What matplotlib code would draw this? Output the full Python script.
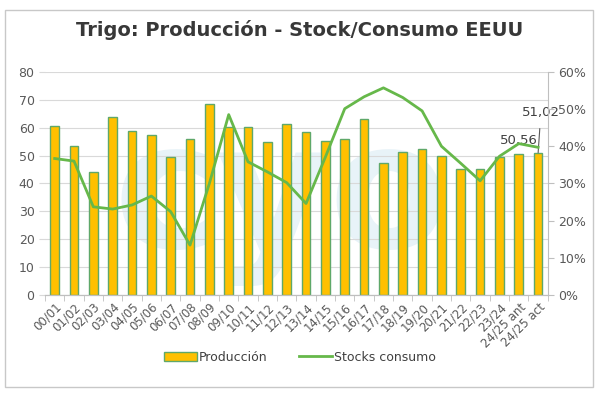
import matplotlib.pyplot as plt
from matplotlib.patches import Rectangle
from matplotlib.ticker import FuncFormatter

campanias = ['00/01', '01/02', '02/03', '03/04', '04/05', '05/06', '06/07', '07/08',
             '08/09', '09/10', '10/11', '11/12', '12/13', '13/14', '14/15', '15/16',
             '16/17', '17/18', '18/19', '19/20', '20/21', '21/22', '22/23', '23/24',
             '24/25 ant', '24/25 act']

produccion = [60.5, 53.5, 44.2, 63.9, 58.7, 57.3, 49.6, 56.1, 68.4, 60.3, 60.1, 54.8, 61.4,
              58.3, 55.2, 56.1, 63.0, 47.2, 51.2, 52.5, 49.9, 45.1, 45.1, 49.6, 50.56, 51.02]

stocks_consumo = [36.7, 36.0, 23.7, 23.1, 24.2, 26.6, 22.4, 13.4, 30.0, 48.5, 35.8, 33.1, 30.2,
                  24.6, 37.1, 50.1, 53.3, 55.7, 53.1, 49.5, 40.0, 35.4, 30.7, 37.3, 40.7, 39.7]

amarillo = '#FFC000'
borde = '#5fa86a'
verde = '#66b84a'
gris = '#595959'

fig = plt.figure(figsize=(6, 3.97), dpi=100)
fig.patches.append(Rectangle((0.008, 0.025), 0.98, 0.95, transform=fig.transFigure,
                             fill=False, edgecolor='#c8c8c8', linewidth=1))

ax = fig.add_axes([0.075, 0.257, 0.838, 0.562])
ax2 = ax.twinx()

x = list(range(len(campanias)))

# marca de agua
ax.text(0.47, 0.42, 'cyo', transform=ax.transAxes, fontsize=125, fontweight='bold',
        color='#e8f3f8', ha='center', va='center', zorder=0)

ax.bar(x, produccion, width=0.45, color=amarillo, edgecolor=borde, linewidth=1,
       label='Producción', zorder=2)
ax2.plot(x, stocks_consumo, color=verde, linewidth=2, label='Stocks consumo', zorder=3)

ax.set_ylim(0, 80)
ax.set_yticks(range(0, 81, 10))
ax2.set_ylim(0, 60)
ax2.set_yticks(range(0, 61, 10))
ax2.yaxis.set_major_formatter(FuncFormatter(lambda v, p: '{:.0f}%'.format(v)))
ax.set_xlim(-0.5, len(campanias) - 0.5)

ax.grid(axis='y', color='#d9d9d9', linewidth=0.8, zorder=1)
ax.set_axisbelow(True)

ax.set_xticks(x)
ax.set_xticklabels(campanias, rotation=45, ha='right', rotation_mode='anchor',
                   fontsize=8.5, color=gris)
ax.set_xticks([i - 0.5 for i in range(len(campanias) + 1)], minor=True)
ax.tick_params(axis='x', which='major', length=0, pad=4)
ax.tick_params(axis='x', which='minor', length=4, color='#bfbfbf')
ax.tick_params(axis='y', labelsize=9, colors=gris, length=4, color='#d9d9d9')
ax2.tick_params(axis='y', labelsize=9, colors=gris, length=4, color='#bfbfbf')

for a in (ax, ax2):
    a.spines['top'].set_visible(False)
    a.spines['left'].set_visible(False)
    a.spines['right'].set_visible(False)
    a.spines['bottom'].set_color('#bfbfbf')
ax2.spines['right'].set_visible(True)
ax2.spines['right'].set_color('#bfbfbf')

# etiquetas de las dos ultimas barras
ax.annotate('50,56', xy=(x[-2], produccion[-2]), xytext=(0, 10), textcoords='offset points',
            ha='center', va='center', fontsize=9.5, color='#404040', zorder=5)
ax.annotate('51,02', xy=(x[-1], produccion[-1]), xytext=(2, 29), textcoords='offset points',
            ha='center', va='center', fontsize=9.5, color='#404040', zorder=5,
            arrowprops=dict(arrowstyle='-', color='#595959', linewidth=0.8,
                            shrinkA=5, shrinkB=0))

fig.text(0.5, 0.925, 'Trigo: Producción - Stock/Consumo EEUU', ha='center', va='center',
         fontsize=14, fontweight='bold', color='#383838')

h1, l1 = ax.get_legend_handles_labels()
h2, l2 = ax2.get_legend_handles_labels()
fig.legend(h1 + h2, l1 + l2, loc='center', bbox_to_anchor=(0.5, 0.1), ncol=2,
           frameon=False, fontsize=9, labelcolor='#404040', handlelength=2.6,
           columnspacing=2.5, handletextpad=0.2)

fig.savefig('out.png', dpi=100)
